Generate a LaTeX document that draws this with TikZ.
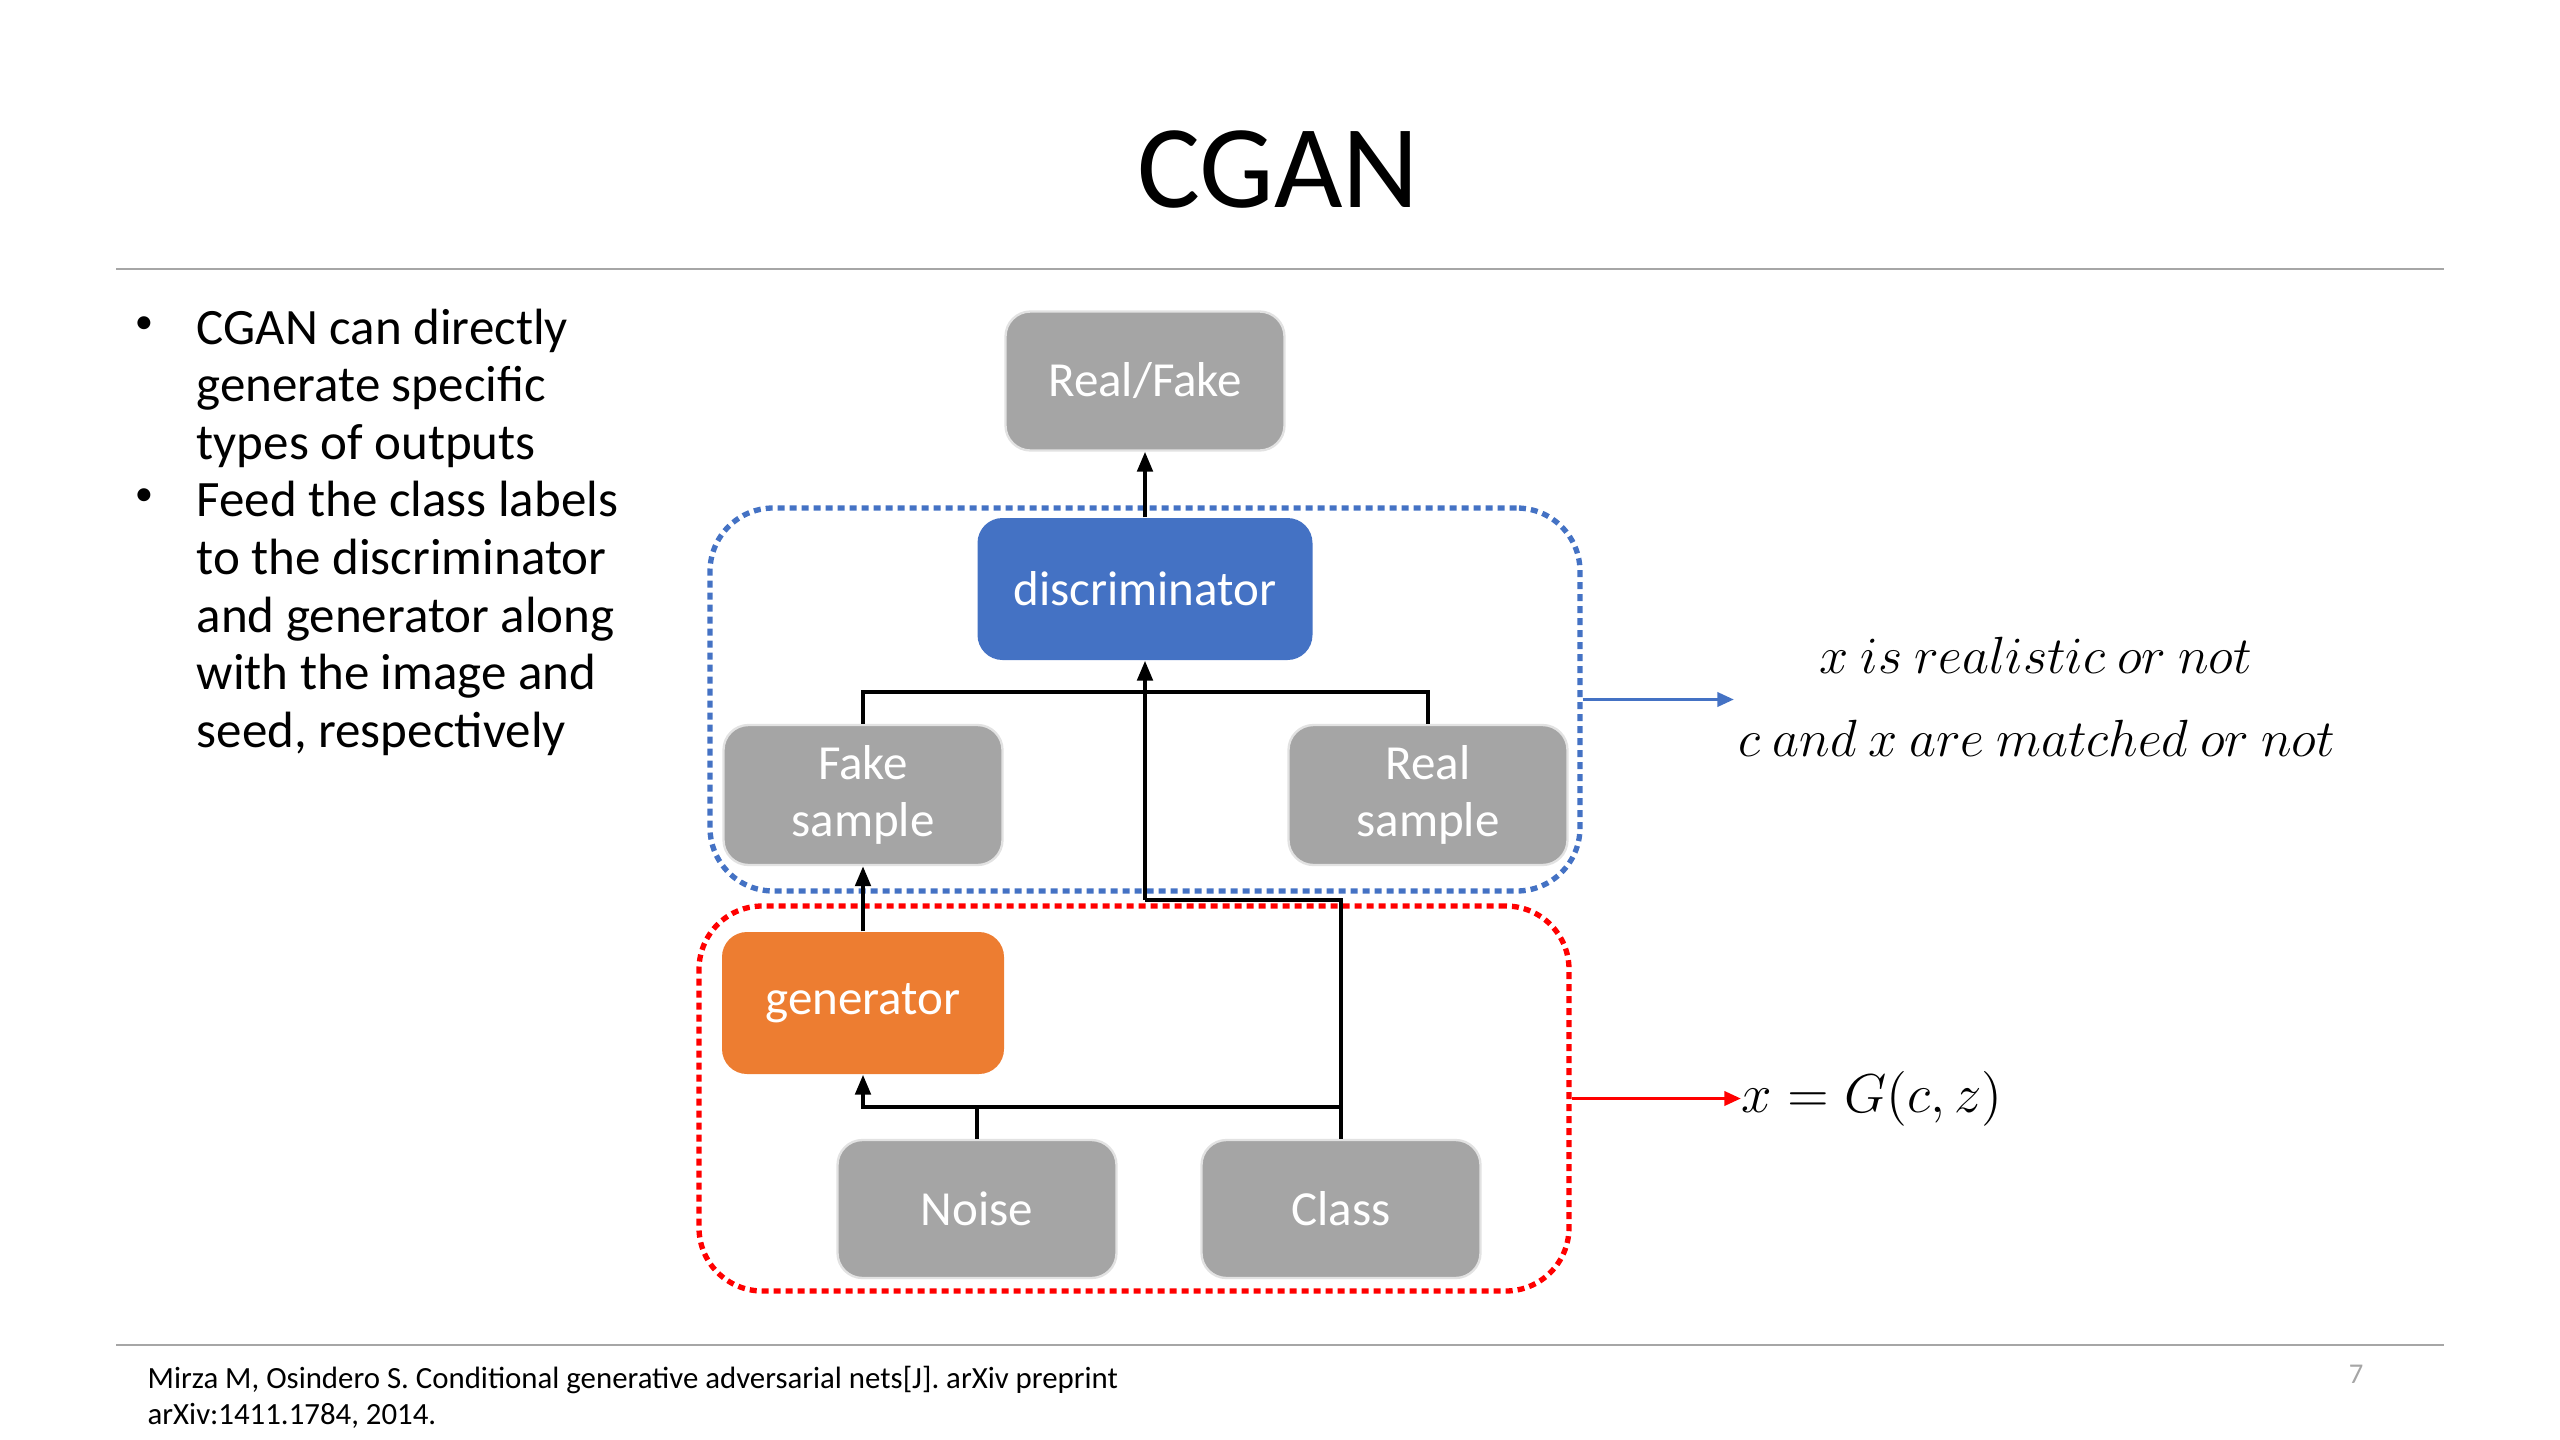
\documentclass[tikz,border=0pt]{standalone}
\usepackage{graphicx}
\usepackage{fontspec}
\setmainfont{Carlito}
\newfontfamily\reffont{Carlito}
\usetikzlibrary{arrows.meta}
\definecolor{boxgray}{HTML}{A5A5A5}
\definecolor{boxedge}{HTML}{E2E2E2}
\definecolor{discblue}{HTML}{4472C4}
\definecolor{genorange}{HTML}{ED7D31}
\definecolor{rulegray}{HTML}{A6A6A6}
\newcommand\pxu{0.3pt}
\tikzset{
  blk/.style={rounded corners=7.5pt, inner sep=0pt, align=center, text=white,
    font=\fontsize{14.7}{17.1}\selectfont},
  graybox/.style={blk, fill=boxgray, draw=boxedge, line width=0.7pt},
  discbox/.style={blk, fill=discblue},
  genbox/.style={blk, fill=genorange},
  conn/.style={line width=1.2pt, black},
  arr/.style={conn, -{Triangle[length=6pt,width=4.6pt]}},
  dotbox/.style={rounded corners=19pt, line width=1.6pt, dash pattern=on 2.1pt off 1.5pt, inner sep=0pt},
  bullettext/.style={anchor=base west, inner sep=0pt, font=\fontsize{15.3}{17}\selectfont},
  bulletmark/.style={anchor=center, inner sep=0pt, font=\fontsize{11}{12}\selectfont},
  mathlbl/.style={inner sep=0pt, font=\fontsize{14.4}{18}\selectfont},
}
\begin{document}
\begin{tikzpicture}[x=0.3pt, y=-0.3pt]
\useasboundingbox (0,0) rectangle (2560,1440);
% title and rules
\node[anchor=base, inner sep=0pt, font=\fontsize{35.5}{40}\selectfont] (title) at (1278,207) {CGAN};
\draw[rulegray, line width=0.7pt] (116,269) -- (2444,269);
\draw[rulegray, line width=0.7pt] (116,1345) -- (2444,1345);

% bullets
\node[bulletmark] (b1) at (144,325) {•};
\node[bulletmark] (b2) at (144,497) {•};
\node[bullettext] (l0) at (196,344) {CGAN can directly};
\node[bullettext] (l1) at (196,401.6) {generate specific};
\node[bullettext] (l2) at (196,459.2) {types of outputs};
\node[bullettext] (l3) at (196,516.8) {Feed the class labels};
\node[bullettext] (l4) at (196,574.4) {to the discriminator};
\node[bullettext] (l5) at (196,632) {and generator along};
\node[bullettext] (l6) at (196,689.6) {with the image and};
\node[bullettext] (l7) at (196,747.2) {seed, respectively};

% dotted group boxes
\node[dotbox, draw=discblue, minimum width=870*\pxu, minimum height=383*\pxu] (dgrp) at (1145,699.5) {};
\node[dotbox, draw=red, minimum width=870*\pxu, minimum height=385*\pxu] (ggrp) at (1134,1098.5) {};

% blocks
\node[graybox, minimum width=279*\pxu, minimum height=139*\pxu] (rf) at (1145,381) {Real/Fake};
\node[discbox, minimum width=335*\pxu, minimum height=142*\pxu] (disc) at (1145,589) {discriminator};
\node[graybox, minimum width=279*\pxu, minimum height=140*\pxu] (fake) at (863,795) {Fake\\sample};
\node[graybox, minimum width=279*\pxu, minimum height=140*\pxu] (real) at (1428,795) {Real\\sample};
\node[genbox, minimum width=282*\pxu, minimum height=142*\pxu] (gen) at (863,1003) {generator};
\node[graybox, minimum width=279*\pxu, minimum height=138*\pxu] (noise) at (977,1209) {Noise};
\node[graybox, minimum width=279*\pxu, minimum height=138*\pxu] (class) at (1341,1209) {Class};

% connectors
\coordinate (busD) at (1145,692);
\coordinate (busC) at (1145,900);
\coordinate (busN) at (977,1107);
\draw[arr] (disc.north) -- (rf.south);
\draw[conn] (fake.north) |- (busD) -| (real.north);
\draw[conn] (class.north) |- (busC);
\draw[arr] (busC) -- (disc.south);
\draw[arr] (gen.north) -- (fake.south);
\draw[arr] (noise.north) -- (busN) -| (gen.south);
\draw[conn] (busN) -- (class.north |- busN);

% right-hand labels
\coordinate (bend) at (1734,699.5);
\draw[discblue, line width=1.1pt, -{Triangle[length=5pt,width=4.2pt]}] (dgrp.east) -- (bend);
\node[mathlbl] (t1) at (2036,655) {\scalebox{1.09}{$x\ is\ realistic\ or\ not$}};
\node[mathlbl] (t2) at (2037,738) {\scalebox{1.09}{$c\ and\ x\ are\ matched\ or\ not$}};
\node[mathlbl, anchor=west] (form) at (1741,1098.5) {\scalebox{1.14}{$x=G(c,z)$}};
\draw[red, line width=1.1pt, -{Triangle[length=5pt,width=4.2pt]}] (ggrp.east) -- (form.west);

% footer
\node[anchor=base west, inner sep=0pt, font=\reffont\fontsize{9.25}{10}\selectfont] (ref1) at (147,1388) {Mirza M, Osindero S. Conditional generative adversarial nets[J]. arXiv preprint};
\node[anchor=base west, inner sep=0pt, font=\reffont\fontsize{9.25}{10}\selectfont] (ref2) at (147,1424) {arXiv:1411.1784, 2014.};
\node[anchor=base, inner sep=0pt, text=rulegray, font=\fontsize{8.6}{10}\selectfont] (pg) at (2356,1383) {7};
\end{tikzpicture}
\end{document}
